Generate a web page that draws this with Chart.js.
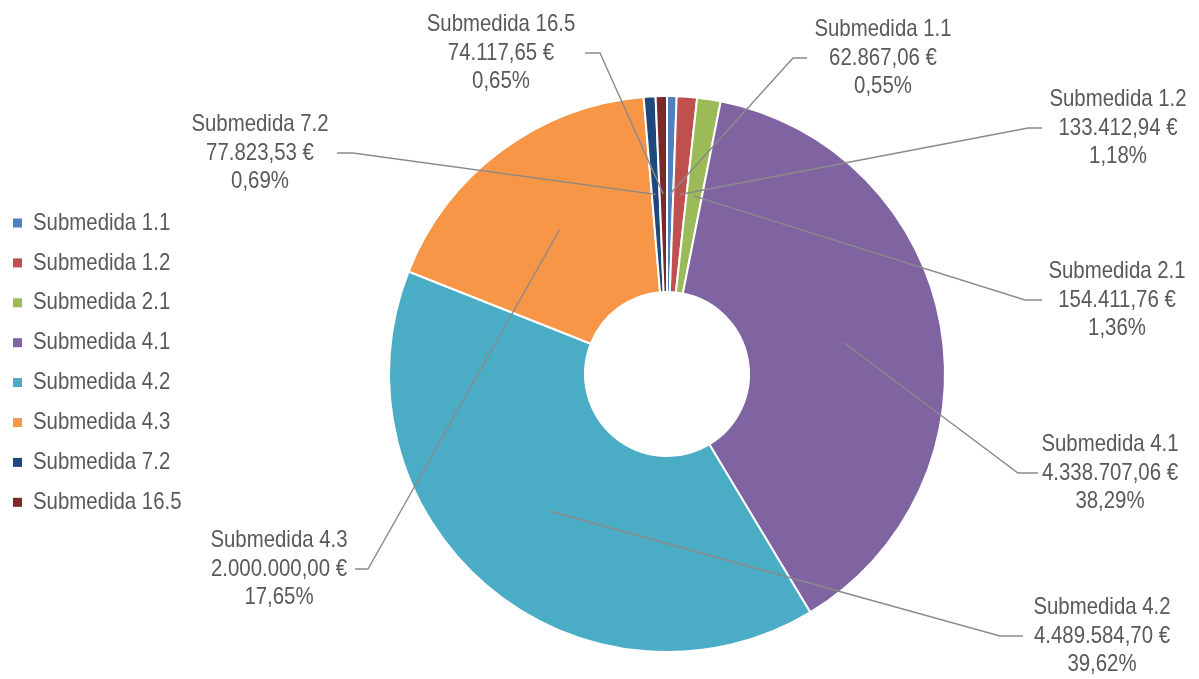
<!DOCTYPE html>
<html>
<head>
<meta charset="utf-8">
<script src="https://cdn.jsdelivr.net/npm/chart.js@4"></script>
<style>
  html, body { margin: 0; padding: 0; background: #fff; }
  #wrap { width: 1199px; height: 679px; }
</style>
</head>
<body>
<div id="wrap"><canvas id="chart" width="1199" height="679"></canvas></div>
<script>
/* ── Data ── */
const categories = ['Submedida 1.1', 'Submedida 1.2', 'Submedida 2.1', 'Submedida 4.1',
                    'Submedida 4.2', 'Submedida 4.3', 'Submedida 7.2', 'Submedida 16.5'];
const amounts = [62867.06, 133412.94, 154411.76, 4338707.06, 4489584.70, 2000000.00, 77823.53, 74117.65];
const sliceColors = ['#4F81BD', '#C0504D', '#9BBB59', '#8064A2', '#4BACC6', '#F79646', '#1F497D', '#7A2A2A'];

/* ── Label placement: centre x, middle line y, elbow x, stub end x ── */
const labelSpots = [
  [883, 58, 793, 807],
  [1118, 128, 1028, 1042],
  [1117, 300, 1025, 1042],
  [1110, 473, 1018, 1038],
  [1102, 636, 1000, 1023],
  [279, 569, 368, 355],
  [260, 153, 353, 337],
  [501, 53, 600, 585]
];

const TEXT_COLOR = '#595959';
const FONT = '24px "Liberation Sans", Arial, sans-serif';
const SQUEEZE = 0.85;

function euro(v) {
  const [int, dec] = v.toFixed(2).split('.');
  return int.replace(/\B(?=(\d{3})+(?!\d))/g, '.') + ',' + dec + ' €';
}
function pct(v, total) {
  return (v / total * 100).toFixed(2).replace('.', ',') + '%';
}

// narrow text, like the original's condensed face
function squeezeText(ctx, text, x, y, align) {
  ctx.save();
  ctx.translate(x, y);
  ctx.scale(SQUEEZE, 1);
  ctx.textAlign = align;
  ctx.fillText(text, 0, 0);
  ctx.restore();
}

/* ── Leader lines + data labels ── */
const calloutLabels = {
  id: 'calloutLabels',
  afterDatasetsDraw(chart) {
    const ctx = chart.ctx;
    const meta = chart.getDatasetMeta(0);
    const values = chart.data.datasets[0].data;
    const total = values.reduce((a, b) => a + b, 0);

    ctx.save();
    ctx.strokeStyle = '#8a8a8a';
    ctx.lineWidth = 1.4;
    meta.data.forEach((arc, i) => {
      const p = arc.getProps(['x', 'y', 'startAngle', 'endAngle', 'innerRadius', 'outerRadius'], true);
      const mid = (p.startAngle + p.endAngle) / 2;
      const r = (p.innerRadius + p.outerRadius) / 2;
      const ax = p.x + Math.cos(mid) * r;
      const ay = p.y + Math.sin(mid) * r;
      const [, ly, elbowX, stubX] = labelSpots[i];
      ctx.beginPath();
      ctx.moveTo(ax, ay);
      ctx.lineTo(elbowX, ly);
      ctx.lineTo(stubX, ly);
      ctx.stroke();
    });

    ctx.fillStyle = TEXT_COLOR;
    ctx.font = FONT;
    ctx.textBaseline = 'middle';
    meta.data.forEach((arc, i) => {
      const [cx, ly] = labelSpots[i];
      const lines = [chart.data.labels[i], euro(values[i]), pct(values[i], total)];
      lines.forEach((t, k) => squeezeText(ctx, t, cx, ly + (k - 1) * 28.5, 'center'));
    });
    ctx.restore();
  }
};

/* ── Legend on the left ── */
const sideLegend = {
  id: 'sideLegend',
  afterDraw(chart) {
    const ctx = chart.ctx;
    const colors = chart.data.datasets[0].backgroundColor;
    ctx.save();
    ctx.font = FONT;
    ctx.textBaseline = 'middle';
    chart.data.labels.forEach((name, i) => {
      const y = 223 + i * 39.9;
      ctx.fillStyle = colors[i];
      ctx.fillRect(13, y - 4.5, 9, 9);
      ctx.fillStyle = TEXT_COLOR;
      squeezeText(ctx, name, 33, y, 'left');
    });
    ctx.restore();
  }
};

new Chart(document.getElementById('chart'), {
  type: 'doughnut',
  data: {
    labels: categories,
    datasets: [{
      data: amounts,
      backgroundColor: sliceColors,
      borderColor: '#ffffff',
      borderWidth: 2
    }]
  },
  options: {
    responsive: false,
    devicePixelRatio: 1,
    animation: false,
    cutout: '29.5%',
    layout: { padding: { left: 388, right: 253, top: 95, bottom: 26 } },
    plugins: {
      legend: { display: false },
      tooltip: { enabled: false }
    }
  },
  plugins: [calloutLabels, sideLegend]
});
</script>
</body>
</html>
